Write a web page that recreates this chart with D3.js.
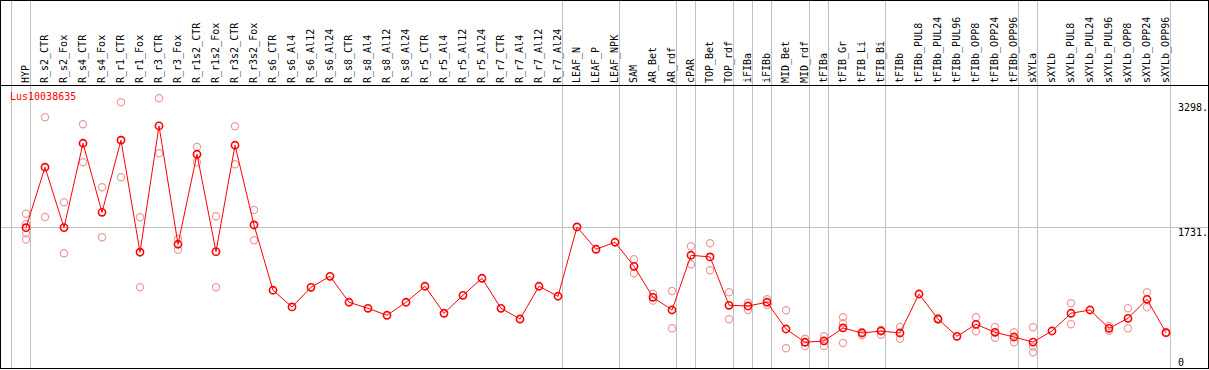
<!DOCTYPE html>
<html>
<head>
<meta charset="utf-8">
<script src="https://cdn.jsdelivr.net/npm/d3@7"></script>
<style>
  body { margin: 0; background: #fff; }
  svg text { font-family: "DejaVu Sans Mono", monospace; font-size: 10px; }
</style>
</head>
<body>
<svg id="chart" width="1209" height="370"></svg>
<script>
// gene + samples
const gene = "Lus10038635";
const categories = ["HYP","R_s2_CTR","R_s2_Fox","R_s4_CTR","R_s4_Fox","R_r1_CTR","R_r1_Fox","R_r3_CTR","R_r3_Fox",
  "R_r1s2_CTR","R_r1s2_Fox","R_r3s2_CTR","R_r3s2_Fox","R_s6_CTR","R_s6_Al4","R_s6_Al12","R_s6_Al24",
  "R_s8_CTR","R_s8_Al4","R_s8_Al12","R_s8_Al24","R_r5_CTR","R_r5_Al4","R_r5_Al12","R_r5_Al24",
  "R_r7_CTR","R_r7_Al4","R_r7_Al12","R_r7_Al24","LEAF_N","LEAF_P","LEAF_NPK","SAM","AR_Bet","AR_rdf",
  "cPAR","TOP_Bet","TOP_rdf","iFIBa","iFIBb","MID_Bet","MID_rdf","tFIBa","tFIB_Gr","tFIB_Li","tFIB_Bi",
  "tFIBb","tFIBb_PUL8","tFIBb_PUL24","tFIBb_PUL96","tFIBb_OPP8","tFIBb_OPP24","tFIBb_OPP96",
  "sXYLa","sXYLb","sXYLb_PUL8","sXYLb_PUL24","sXYLb_PUL96","sXYLb_OPP8","sXYLb_OPP24","sXYLb_OPP96"];

// mean expression per sample
const means = [1731,2488,1732,2788,1924,2826,1424,3005,1524,
  2650,1431,2763,1765,948,739,985,1123,
  798,722,635,798,998,660,885,1098,
  722,588,998,873,1740,1461,1549,1248,860,701,
  1386,1365,760,751,798,463,297,313,476,413,438,
  413,901,588,372,522,422,363,
  300,438,660,701,472,597,835,417];

// replicate values per sample (empty = not shown)
const replicates = [[1905,1775,1660,1584],[3114,1865],[2050,1411],[3026,2550],[2237,1611],[3302,2363],[1862,985],[3352,2663],[1590,1456],
  [2742,2550],[1874,985],[3001,2525],[1953,1574],[],[],[],[],
  [],[],[],[],[],[],[],[],
  [],[],[],[],[],[],[],[1336,1161],[905,818],[939,472],
  [1499,1273],[1536,1198],[923,585],[793,701],[835,764],[697,222],[342,250],[372,250],[610,535,288],[426,384],[451,392],
  [488,342],[],[595,581],[],[610,434],[488,354],[422,297],
  [485,242,172],[],[785,522],[],[501,442],[722,472],[923,735],[422,412]];

// last sample of each group (grey separators)
const groupEnds = ["HYP","R_r7_Al24","LEAF_NPK","AR_rdf","cPAR","TOP_rdf","iFIBa","iFIBb","MID_rdf",
  "tFIBa","tFIB_Bi","tFIBb_OPP96","sXYLa","sXYLb_OPP96"];

const yTicks = [0, 1731, 3298];
const yTickLabels = ["0", "1731.", "3298."];
const refLine = 1731;

const W = 1209, H = 370;
const svg = d3.select("#chart");

const x = d3.scalePoint().domain(categories).range([26, 1166]);
const step = x.step();
const y = d3.scaleLinear().domain([0, 3298]).range([366, 102.5]);

// separators
const sepX = [x(categories[0]) - step + 4.5].concat(groupEnds.map(c => x(c) + 4.5));
svg.append("g").selectAll("line")
    .data(sepX)
    .join("line")
    .attr("x1", d => d).attr("x2", d => d)
    .attr("y1", 0).attr("y2", 368)
    .style("stroke", "#c0c0c0")
    .style("stroke-width", 1);

// reference line
svg.append("line")
    .attr("x1", 0).attr("x2", 1208)
    .attr("y1", Math.round(y(refLine)) - 0.5).attr("y2", Math.round(y(refLine)) - 0.5)
    .style("stroke", "#c0c0c0");

// frame + header separator
svg.append("rect")
    .attr("x", 0.5).attr("y", 0.5)
    .attr("width", 1208).attr("height", 368)
    .style("fill", "none").style("stroke", "#000");
svg.append("line")
    .attr("x1", 0).attr("x2", 1208)
    .attr("y1", 85.5).attr("y2", 85.5)
    .style("stroke", "#000");

// sample labels
svg.append("g").selectAll("text")
    .data(categories)
    .join("text")
    .attr("transform", d => `translate(${x(d) + 3},83) rotate(-90)`)
    .style("fill", "#000")
    .text(d => d);

// y labels
svg.append("g").selectAll("text")
    .data(yTicks)
    .join("text")
    .attr("x", 1178)
    .attr("y", d => Math.min(y(d) + 8.5, 366))
    .style("fill", "#000")
    .text((d, i) => yTickLabels[i]);

// gene name
svg.append("text")
    .attr("x", 10).attr("y", 100)
    .style("fill", "#ff0000")
    .text(gene);

// replicates
const repData = replicates.flatMap((r, i) => r.map(v => ({cat: categories[i], v})));
svg.append("g").selectAll("circle")
    .data(repData)
    .join("circle")
    .attr("cx", d => x(d.cat))
    .attr("cy", d => y(d.v))
    .attr("r", 3.6)
    .style("fill", "none")
    .style("stroke", "#ee9a9a")
    .style("stroke-width", 1.2);

// mean line
const line = d3.line()
    .x((d, i) => x(categories[i]))
    .y(d => y(d));
svg.append("path")
    .datum(means)
    .attr("d", line)
    .style("fill", "none")
    .style("stroke", "#ff0000")
    .style("stroke-width", 1);

svg.append("g").selectAll("circle")
    .data(means)
    .join("circle")
    .attr("cx", (d, i) => x(categories[i]))
    .attr("cy", d => y(d))
    .attr("r", 3.6)
    .style("fill", "none")
    .style("stroke", "#ff0000")
    .style("stroke-width", 1.6);
</script>
</body>
</html>
